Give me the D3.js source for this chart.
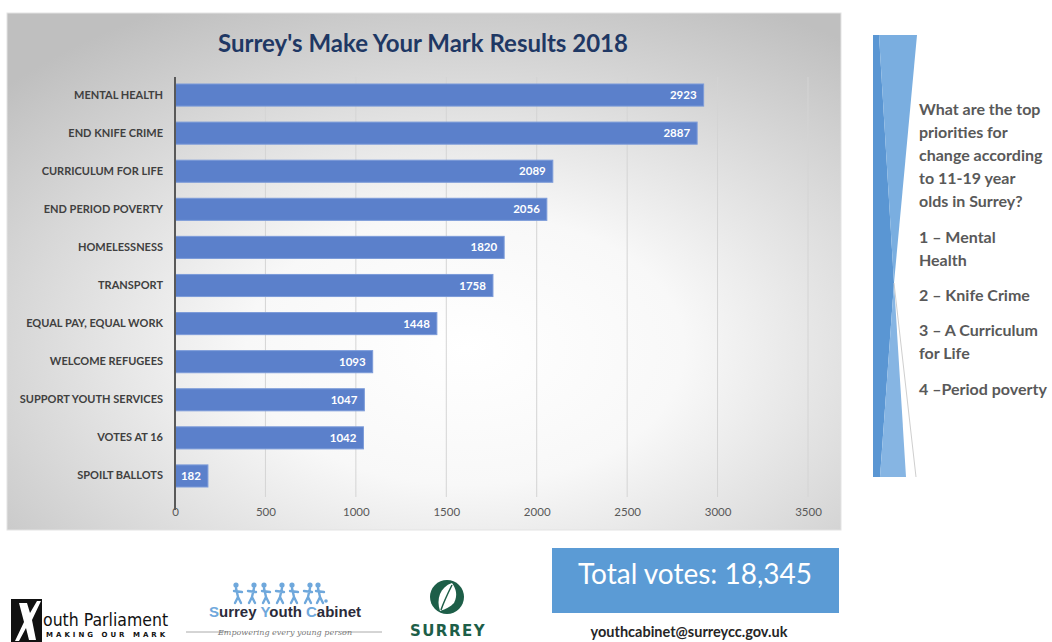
<!DOCTYPE html>
<html>
<head>
<meta charset="utf-8">
<script src="https://cdn.jsdelivr.net/npm/d3@7"></script>
<style>
  body { margin: 0; background: #fff; }
  svg { display: block; font-family: Lato, "Open Sans", sans-serif; }
</style>
</head>
<body>
<div id="chart"></div>
<script>
const categories = ["MENTAL HEALTH", "END KNIFE CRIME", "CURRICULUM FOR LIFE", "END PERIOD POVERTY",
  "HOMELESSNESS", "TRANSPORT", "EQUAL PAY, EQUAL WORK", "WELCOME REFUGEES",
  "SUPPORT YOUTH SERVICES", "VOTES AT 16", "SPOILT BALLOTS"];
const votes = [2923, 2887, 2089, 2056, 1820, 1758, 1448, 1093, 1047, 1042, 182];
const xTicks = [0, 500, 1000, 1500, 2000, 2500, 3000, 3500];
const title = "Surrey's Make Your Mark Results 2018";
const sideLines = [
  ["What are the top", "priorities for", "change according", "to 11-19 year", "olds in Surrey?"],
  ["1 \u2013 Mental", "Health"],
  ["2 \u2013 Knife Crime"],
  ["3 \u2013 A Curriculum", "for Life"],
  ["4 \u2013Period poverty"]
];
const totalVotes = "Total votes: 18,345";
const email = "youthcabinet@surreycc.gov.uk";

const width = 1052, height = 642;
const svg = d3.select("#chart").append("svg")
  .attr("width", width)
  .attr("height", height);

const defs = svg.append("defs");
const grad = defs.append("radialGradient")
  .attr("id", "panelBg")
  .attr("cx", "55%").attr("cy", "65%").attr("r", "75%");
grad.append("stop").attr("offset", "0%").attr("stop-color", "#ffffff");
grad.append("stop").attr("offset", "35%").attr("stop-color", "#f8f8f8");
grad.append("stop").attr("offset", "100%").attr("stop-color", "#bfbfbf");

// chart panel
svg.append("rect")
  .attr("x", 7).attr("y", 13)
  .attr("width", 834).attr("height", 517)
  .attr("fill", "url(#panelBg)")
  .attr("stroke", "#e3e3e3");

svg.append("text")
  .attr("x", 423).attr("y", 52)
  .attr("text-anchor", "middle")
  .style("font", "bold 24px Lato, sans-serif")
  .attr("fill", "#1f3864")
  .text(title);

const x = d3.scaleLinear().domain([0, 3500]).range([175, 808]);
const y = d3.scaleBand().domain(categories).range([76, 495]).paddingInner(0.42).paddingOuter(0.21);

// gridlines
svg.append("g")
  .selectAll("line")
  .data(xTicks.slice(1))
  .join("line")
  .attr("x1", d => x(d)).attr("x2", d => x(d))
  .attr("y1", 77).attr("y2", 497)
  .attr("stroke", "#d4d4d4");

// x axis labels
const xAxis = svg.append("g")
  .attr("transform", "translate(0,497)")
  .call(d3.axisBottom(x).tickValues(xTicks).tickSize(0).tickPadding(11).tickFormat(d3.format("d")));
xAxis.select(".domain").remove();
xAxis.selectAll("text")
  .style("font", "11.5px Lato, sans-serif")
  .attr("fill", "#595959");

// bars
svg.append("g")
  .selectAll("rect")
  .data(votes)
  .join("rect")
  .attr("x", x(0))
  .attr("y", (d, i) => y(categories[i]))
  .attr("width", d => x(d) - x(0))
  .attr("height", y.bandwidth())
  .attr("fill", "#5b80cb")
  .attr("stroke", "#7c9bd9")
  .attr("stroke-width", 1);

svg.append("g")
  .selectAll("text")
  .data(votes)
  .join("text")
  .attr("x", d => x(d) - 7)
  .attr("y", (d, i) => y(categories[i]) + y.bandwidth() / 2)
  .attr("dy", "0.35em")
  .attr("text-anchor", "end")
  .style("font", "bold 11.5px Lato, sans-serif")
  .attr("fill", "#ffffff")
  .text(d => d);

// y axis
const yAxis = svg.append("g")
  .attr("transform", `translate(${x(0)},0)`)
  .call(d3.axisLeft(y).tickSize(0).tickPadding(12));
yAxis.select(".domain")
  .attr("d", "M0,77V510")
  .attr("stroke", "#595959")
  .attr("stroke-width", 2);
yAxis.selectAll("text")
  .style("font", "bold 11px Lato, sans-serif")
  .attr("fill", "#404040");

// side decoration
const side = svg.append("g");
side.append("polygon")
  .attr("points", "873,35 879,35 894,283 880,477 873,477")
  .attr("fill", "#5a96d3");
side.append("polygon")
  .attr("points", "879,35 917,35 894,283")
  .attr("fill", "#7aaee0");
side.append("polygon")
  .attr("points", "894,283 906,477 880,477")
  .attr("fill", "#86b5e3");
side.append("line")
  .attr("x1", 894).attr("y1", 283).attr("x2", 916).attr("y2", 477)
  .attr("stroke", "#cfcfcf");

// side text
const blockTops = [115, 243, 301, 336, 395];
const sideText = svg.append("g")
  .style("font", "bold 16px Lato, sans-serif")
  .attr("fill", "#595959");
sideLines.forEach((lines, bi) => {
  lines.forEach((line, li) => {
    sideText.append("text")
      .attr("x", 919)
      .attr("y", blockTops[bi] + li * 23)
      .text(line);
  });
});

// total votes box
svg.append("rect")
  .attr("x", 552).attr("y", 548)
  .attr("width", 287).attr("height", 65)
  .attr("fill", "#5b9bd5");
svg.append("text")
  .attr("x", 695).attr("y", 584)
  .attr("text-anchor", "middle")
  .style("font", "28px Lato, sans-serif")
  .attr("fill", "#ffffff")
  .text(totalVotes);
svg.append("text")
  .attr("x", 689).attr("y", 637)
  .attr("text-anchor", "middle")
  .style("font", "bold 14.5px Lato, sans-serif")
  .attr("fill", "#262626")
  .text(email);

// logo: youth parliament
const yp = svg.append("g");
yp.append("rect").attr("x", 11).attr("y", 599).attr("width", 31).attr("height", 43).attr("fill", "#111");
yp.append("path")
  .attr("d", "M19,603 L27,603 L30,613 L37,601 L41,601 L32,620 L36,640 L29,640 L26,628 L19,641 L15,641 L24,622 Z")
  .attr("fill", "#fff");
yp.append("text")
  .attr("x", 43).attr("y", 626)
  .style("font", "17.5px 'Liberation Sans Narrow', 'DejaVu Sans Condensed', sans-serif")
  .attr("fill", "#111")
  .text("outh Parliament");
yp.append("text")
  .attr("x", 46).attr("y", 637)
  .style("font", "bold 7px 'DejaVu Sans', sans-serif")
  .attr("letter-spacing", "3")
  .attr("fill", "#111")
  .text("MAKING OUR MARK");

// logo: surrey youth cabinet
const syc = svg.append("g");
const figX = [238, 252, 266, 280, 294, 308, 320];
figX.forEach((fx, i) => {
  const lean = i % 2 ? 2 : -2;
  syc.append("circle").attr("cx", fx + lean).attr("cy", 585).attr("r", 2.6).attr("fill", "#6fa8dc");
  syc.append("path")
    .attr("d", `M${fx + lean},588 L${fx},597 M${fx},597 L${fx - 3},603 M${fx},597 L${fx + 3},603 M${fx - 4},591 L${fx + 4},592`)
    .attr("stroke", "#6fa8dc").attr("stroke-width", 2.4).attr("stroke-linecap", "round").attr("fill", "none");
});
syc.append("circle").attr("cx", 326).attr("cy", 601).attr("r", 1.8).attr("fill", "#6fa8dc");
const sycText = syc.append("text")
  .attr("x", 285).attr("y", 617)
  .attr("text-anchor", "middle")
  .style("font", "bold 15px 'Liberation Sans Narrow', sans-serif")
  .attr("fill", "#2b2b3a");
[["S", "#6fa8dc"], ["urrey ", null], ["Y", "#6fa8dc"], ["outh ", null], ["C", "#6fa8dc"], ["abinet", null]]
  .forEach(([t, c]) => {
    const s = sycText.append("tspan").text(t);
    if (c) s.attr("fill", c);
  });
syc.append("line").attr("x1", 186).attr("x2", 228).attr("y1", 632).attr("y2", 632).attr("stroke", "#aaa");
syc.append("line").attr("x1", 342).attr("x2", 382).attr("y1", 632).attr("y2", 632).attr("stroke", "#aaa");
syc.append("text")
  .attr("x", 285).attr("y", 635)
  .attr("text-anchor", "middle")
  .style("font", "italic 8px 'DejaVu Serif', serif")
  .attr("fill", "#777")
  .text("Empowering every young person");

// logo: surrey county council
const sc = svg.append("g");
sc.append("circle").attr("cx", 447).attr("cy", 597).attr("r", 17).attr("fill", "#1d5e48");
sc.append("path")
  .attr("d", "M440,611 C436,599 440,587 452,583 C456,589 458,595 454,603 C450,607 446,609 440,611 Z")
  .attr("fill", "#fff");
sc.append("path")
  .attr("d", "M441,610 C444,601 448,593 452,585")
  .attr("stroke", "#1d5e48").attr("stroke-width", 1.5).attr("fill", "none");
sc.append("text")
  .attr("x", 448).attr("y", 636)
  .attr("text-anchor", "middle")
  .style("font", "bold 15px 'DejaVu Sans', sans-serif")
  .attr("letter-spacing", "1.5")
  .attr("fill", "#1d5e48")
  .text("SURREY");
</script>
</body>
</html>
